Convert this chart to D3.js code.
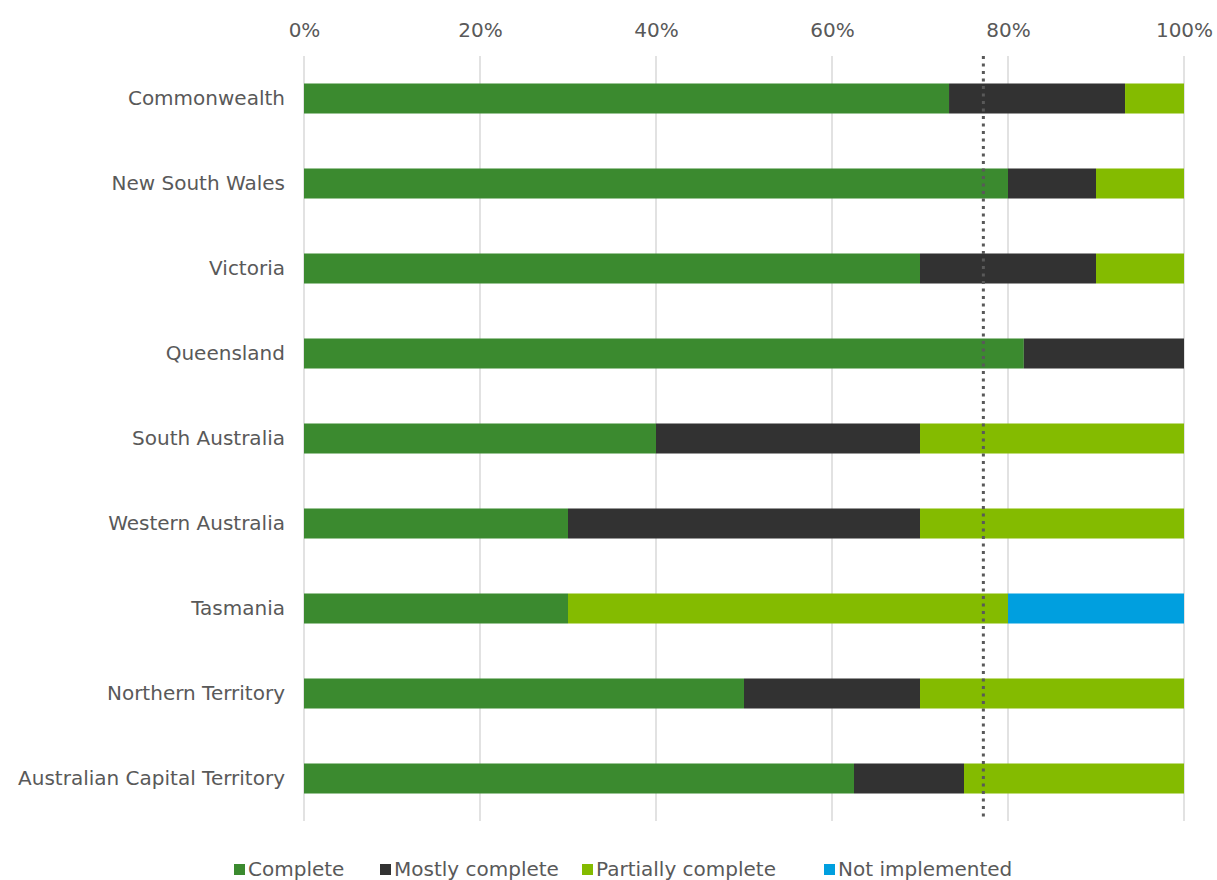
<!DOCTYPE html>
<meta charset="utf-8">
<style>
body { margin: 0; background: #fff; }
text { font-family: "DejaVu Sans", Verdana, sans-serif; fill: #595959; }
.grid line { stroke: #d9d9d9; stroke-width: 1.5; }
</style>
<body>
<svg width="1217" height="880"></svg>
<script src="https://cdn.jsdelivr.net/npm/d3@7"></script>
<script>

var jurisdictions = ["Commonwealth", "New South Wales", "Victoria", "Queensland", "South Australia",
  "Western Australia", "Tasmania", "Northern Territory", "Australian Capital Territory"];
var seriesNames = ["Complete", "Mostly complete", "Partially complete", "Not implemented"];
var complete = [0.733, 0.80, 0.70, 0.818, 0.40, 0.30, 0.30, 0.50, 0.625];
var mostly   = [0.200, 0.10, 0.20, 0.182, 0.30, 0.40, 0.00, 0.20, 0.125];
var partial  = [0.067, 0.10, 0.10, 0.000, 0.30, 0.30, 0.50, 0.30, 0.250];
var notImpl  = [0.000, 0.00, 0.00, 0.000, 0.00, 0.00, 0.20, 0.00, 0.000];
var tickValues = [0, 0.2, 0.4, 0.6, 0.8, 1.0];
var average = 0.772;

var colors = ["#3b8a2f", "#323232", "#84bb00", "#009fdf"];

var svg = d3.select("svg"),
    margin = {top: 56, right: 33, bottom: 59, left: 304},
    width = +svg.attr("width") - margin.left - margin.right,
    height = +svg.attr("height") - margin.top - margin.bottom;

var x = d3.scaleLinear().domain([0, 1]).range([0, width]);
var y = d3.scaleBand().domain(jurisdictions).range([0, height]).paddingInner(0.647).paddingOuter(0.3235);

var g = svg.append("g")
    .attr("transform", "translate(" + margin.left + "," + margin.top + ")");

// vertical gridlines
g.append("g")
    .attr("class", "grid")
  .selectAll("line")
  .data(tickValues)
  .enter().append("line")
    .attr("x1", function(d) { return x(d); })
    .attr("x2", function(d) { return x(d); })
    .attr("y1", 0)
    .attr("y2", height);

// top axis labels
var xAxis = g.append("g")
    .call(d3.axisTop(x).tickValues(tickValues).tickFormat(d3.format(".0%")).tickSize(0).tickPadding(19));
xAxis.select(".domain").remove();
xAxis.selectAll("text").style("font-size", "20px").attr("fill", "#595959");

// category labels
var yAxis = g.append("g")
    .call(d3.axisLeft(y).tickSize(0).tickPadding(19));
yAxis.select(".domain").remove();
yAxis.selectAll("text").style("font-size", "20px").attr("fill", "#595959");

var rows = jurisdictions.map(function(name, i) {
  return {name: name, Complete: complete[i], "Mostly complete": mostly[i],
          "Partially complete": partial[i], "Not implemented": notImpl[i]};
});
var stacked = d3.stack().keys(seriesNames)(rows);

g.selectAll(".series")
  .data(stacked)
  .enter().append("g")
    .attr("class", "series")
    .attr("fill", function(d, i) { return colors[i]; })
  .selectAll("rect")
  .data(function(d) { return d; })
  .enter().append("rect")
    .attr("x", function(d) { return x(d[0]); })
    .attr("y", function(d) { return y(d.data.name); })
    .attr("width", function(d) { return x(d[1]) - x(d[0]); })
    .attr("height", y.bandwidth());

// dotted average line
g.append("line")
    .attr("x1", x(average))
    .attr("x2", x(average))
    .attr("y1", 0)
    .attr("y2", height)
    .attr("stroke", "#595959")
    .attr("stroke-width", 3)
    .attr("stroke-dasharray", "3,4.5");

// legend
var legendX = [234, 380, 582, 824];
var legend = svg.append("g").selectAll("g")
  .data(seriesNames)
  .enter().append("g")
    .attr("transform", function(d, i) { return "translate(" + legendX[i] + ",869)"; });
legend.append("rect")
    .attr("x", 0).attr("y", -5)
    .attr("width", 11).attr("height", 11)
    .attr("fill", function(d, i) { return colors[i]; });
legend.append("text")
    .attr("x", 14)
    .attr("dy", "0.35em")
    .style("font-size", "20px")
    .text(function(d) { return d; });

</script>
</body>
